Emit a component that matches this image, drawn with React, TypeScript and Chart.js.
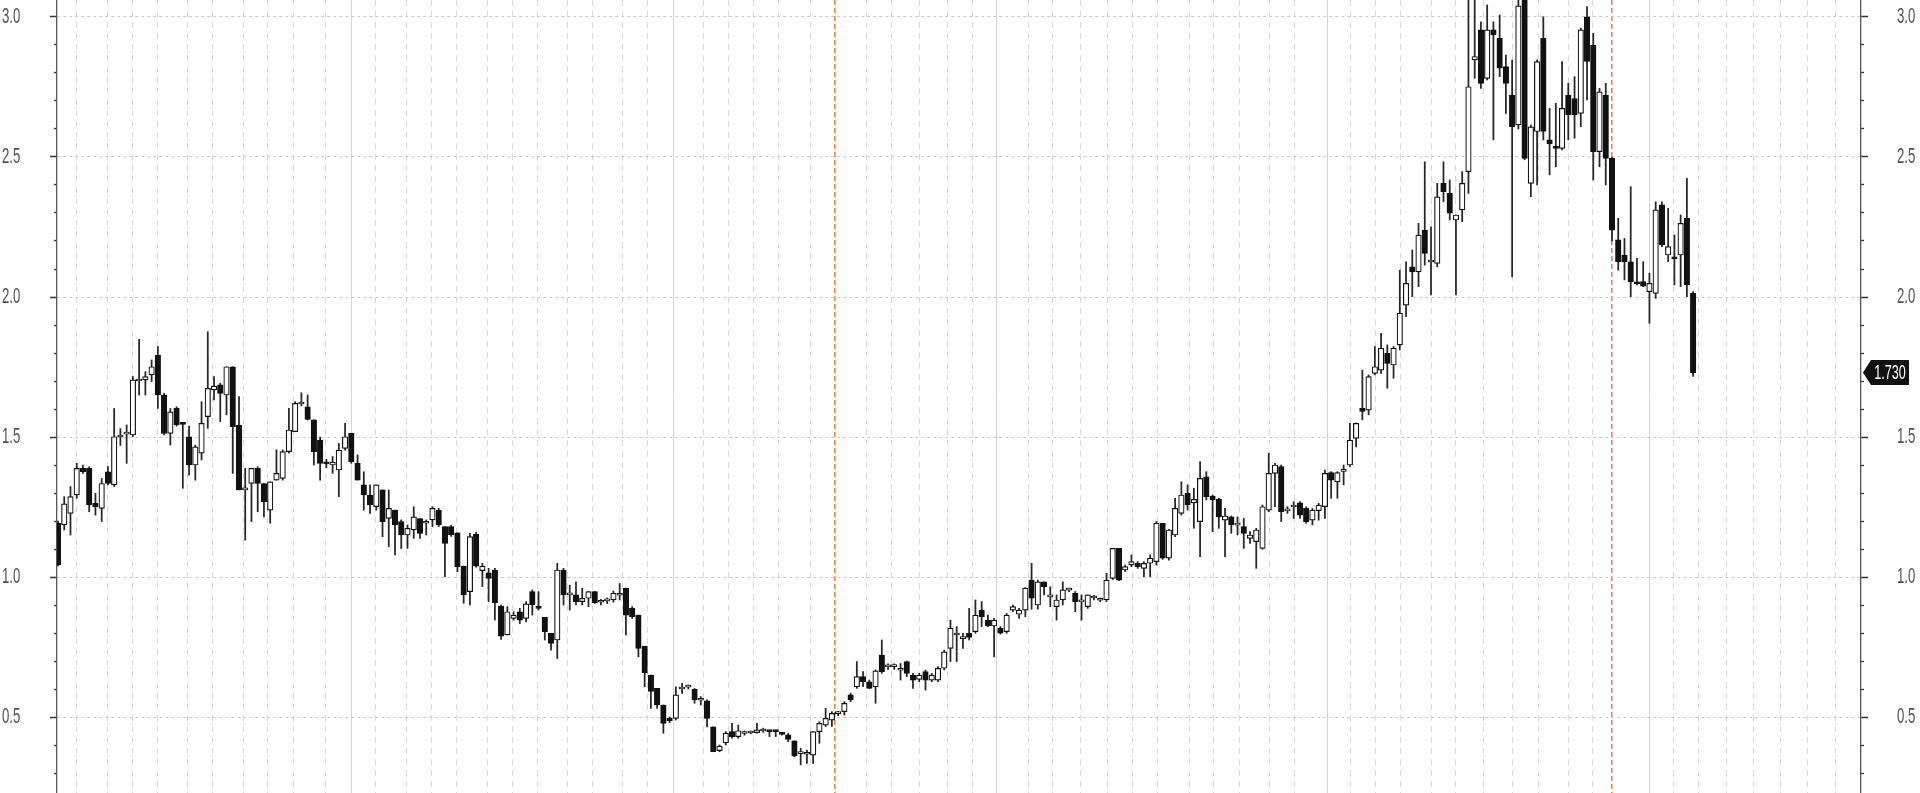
import React, { useEffect, useRef } from 'react';
import { Chart, registerables } from 'chart.js';
Chart.register(...registerables);

// ---- candle data (one entry per trading day, index = position on x) ----
const opens = [
  1.192,1.186,1.227,1.293,1.388,1.388,1.263,1.245,1.376,1.329,
  1.50,1.51,1.507,1.70,1.704,1.722,1.793,1.650,1.513,1.602,
  1.547,1.501,1.400,1.442,1.573,1.668,1.686,1.650,1.751,1.543,
  1.311,1.334,1.388,1.334,1.239,1.346,1.352,1.448,1.519,1.618,
  1.608,1.561,1.489,1.406,1.40,1.382,1.459,1.513,1.406,1.329,
  1.293,1.251,1.311,1.209,1.239,1.198,1.150,1.168,1.209,1.192,
  1.204,1.239,1.180,1.180,1.158,1.039,0.948,1.152,1.023,1.015,
  1.025,0.896,0.793,0.852,0.876,0.852,0.948,0.889,0.856,0.799,
  0.775,1.025,0.936,0.936,0.912,0.924,0.948,0.910,0.915,0.918,
  0.935,0.960,0.888,0.864,0.753,0.650,0.602,0.543,0.495,0.495,
  0.600,0.607,0.599,0.560,0.558,0.465,0.380,0.408,0.448,0.430,
  0.441,0.443,0.444,0.450,0.449,0.449,0.439,0.436,0.415,0.369,
  0.367,0.364,0.448,0.471,0.489,0.512,0.519,0.579,0.608,0.644,
  0.626,0.608,0.721,0.679,0.680,0.667,0.698,0.650,0.634,0.662,
  0.632,0.632,0.674,0.745,0.793,0.780,0.799,0.805,0.882,0.846,
  0.825,0.817,0.805,0.882,0.867,0.882,0.989,0.900,0.983,0.929,
  0.894,0.918,0.953,0.942,0.911,0.894,0.925,0.917,0.918,0.995,
  1.102,1.025,1.043,1.049,1.031,1.049,1.055,1.192,1.067,1.150,
  1.227,1.299,1.265,1.198,1.358,1.289,1.277,1.203,1.215,1.185,
  1.180,1.138,1.126,1.102,1.239,1.370,1.394,1.236,1.250,1.265,
  1.245,1.203,1.237,1.251,1.373,1.340,1.377,1.400,1.495,1.602,
  1.596,1.727,1.739,1.799,1.757,1.829,1.971,2.108,2.090,2.239,
  2.125,2.120,2.406,2.370,2.275,2.311,2.448,2.847,2.954,2.781,
  2.954,2.924,2.823,2.721,2.615,3.08,2.406,2.591,2.924,2.561,
  2.532,2.531,2.721,2.709,2.656,3.001,2.900,2.519,2.721,2.495,
  2.204,2.150,2.126,2.049,2.055,2.019,2.013,2.329,2.150,2.137,
  2.150,2.281,2.013,
];
const highs = [
  1.20,1.287,1.323,1.406,1.40,1.394,1.299,1.352,1.394,1.602,
  1.53,1.543,1.716,1.849,1.733,1.775,1.823,1.656,1.602,1.608,
  1.549,1.539,1.471,1.626,1.876,1.716,1.692,1.751,1.751,1.644,
  1.388,1.388,1.394,1.334,1.340,1.454,1.454,1.602,1.626,1.658,
  1.650,1.561,1.50,1.42,1.43,1.477,1.549,1.513,1.436,1.376,
  1.329,1.329,1.311,1.311,1.239,1.204,1.186,1.251,1.209,1.204,
  1.251,1.245,1.180,1.185,1.158,1.039,1.156,1.16,1.049,1.031,
  1.031,0.900,0.894,0.876,0.888,0.912,0.954,0.948,0.856,0.799,
  1.049,1.031,0.971,0.983,0.960,0.948,0.948,0.92,0.925,0.95,
  0.977,0.960,0.894,0.864,0.753,0.650,0.602,0.543,0.50,0.608,
  0.620,0.615,0.602,0.573,0.561,0.465,0.40,0.448,0.477,0.471,
  0.45,0.45,0.477,0.46,0.452,0.452,0.445,0.442,0.415,0.388,
  0.382,0.448,0.483,0.531,0.519,0.52,0.555,0.585,0.698,0.662,
  0.632,0.668,0.775,0.69,0.69,0.691,0.70,0.656,0.656,0.668,
  0.656,0.680,0.739,0.846,0.823,0.799,0.888,0.918,0.912,0.864,
  0.852,0.823,0.870,0.900,0.888,0.962,1.049,0.989,0.983,0.965,
  0.936,0.983,0.96,0.948,0.936,0.936,0.935,0.925,1.013,1.102,
  1.102,1.043,1.079,1.055,1.055,1.079,1.198,1.192,1.17,1.281,
  1.340,1.329,1.317,1.412,1.376,1.293,1.281,1.245,1.218,1.215,
  1.209,1.162,1.174,1.257,1.442,1.406,1.400,1.251,1.269,1.269,
  1.251,1.245,1.263,1.382,1.376,1.376,1.400,1.549,1.551,1.739,
  1.722,1.823,1.870,1.829,1.823,2.096,2.126,2.168,2.263,2.483,
  2.251,2.406,2.483,2.418,2.293,2.448,3.10,3.10,2.983,3.043,
  2.983,3.007,2.864,2.846,3.10,3.10,2.614,2.847,3.001,2.674,
  2.692,2.841,2.763,2.787,2.960,3.037,2.942,2.745,2.763,2.50,
  2.281,2.209,2.394,2.138,2.126,2.085,2.340,2.340,2.317,2.221,
  2.293,2.424,2.019,
];
const lows = [
  1.04,1.168,1.150,1.281,1.37,1.233,1.221,1.198,1.329,1.323,
  1.47,1.406,1.501,1.650,1.650,1.698,1.602,1.507,1.471,1.539,
  1.317,1.364,1.346,1.418,1.531,1.632,1.555,1.579,1.370,1.311,
  1.132,1.198,1.233,1.215,1.192,1.346,1.346,1.442,1.519,1.611,
  1.561,1.400,1.346,1.39,1.37,1.287,1.453,1.406,1.346,1.239,
  1.227,1.239,1.144,1.108,1.079,1.102,1.102,1.138,1.138,1.150,
  1.180,1.180,1.001,1.145,1.019,0.906,0.900,1.035,0.966,0.912,
  0.846,0.777,0.793,0.846,0.834,0.840,0.864,0.882,0.775,0.739,
  0.709,0.900,0.882,0.900,0.900,0.894,0.906,0.90,0.905,0.91,
  0.918,0.793,0.852,0.715,0.608,0.531,0.531,0.442,0.48,0.489,
  0.584,0.60,0.549,0.543,0.465,0.376,0.376,0.40,0.424,0.424,
  0.435,0.44,0.442,0.445,0.43,0.43,0.435,0.412,0.358,0.329,
  0.334,0.334,0.406,0.466,0.466,0.505,0.507,0.555,0.602,0.608,
  0.602,0.549,0.656,0.67,0.67,0.632,0.644,0.602,0.626,0.596,
  0.626,0.626,0.668,0.698,0.698,0.745,0.775,0.799,0.823,0.823,
  0.715,0.796,0.799,0.876,0.852,0.858,0.885,0.885,0.936,0.894,
  0.846,0.900,0.948,0.876,0.846,0.888,0.918,0.912,0.912,0.991,
  0.987,1.019,1.037,1.031,1.001,1.001,1.043,1.063,1.06,1.144,
  1.221,1.239,1.174,1.073,1.275,1.162,1.174,1.073,1.156,1.150,
  1.102,1.120,1.031,1.099,1.233,1.251,1.198,1.227,1.209,1.209,
  1.192,1.186,1.203,1.209,1.281,1.281,1.329,1.394,1.465,1.561,
  1.579,1.722,1.727,1.674,1.710,1.811,1.930,2.001,2.037,2.114,
  2.007,2.108,2.340,2.275,2.007,2.269,2.370,2.781,2.745,2.775,
  2.561,2.787,2.656,2.072,2.60,2.49,2.358,2.400,2.561,2.436,
  2.465,2.525,2.561,2.567,2.608,2.704,2.418,2.465,2.400,2.20,
  2.096,2.061,2.001,2.043,2.037,1.906,1.995,2.180,2.126,2.043,
  2.037,2.001,1.716,
];
const closes = [
  1.043,1.261,1.287,1.388,1.376,1.257,1.251,1.334,1.334,1.501,
  1.505,1.515,1.704,1.703,1.716,1.751,1.650,1.513,1.590,1.543,
  1.545,1.400,1.465,1.549,1.674,1.682,1.656,1.751,1.537,1.311,
  1.314,1.388,1.334,1.269,1.340,1.370,1.448,1.525,1.620,1.620,
  1.563,1.448,1.406,1.404,1.41,1.453,1.501,1.412,1.346,1.293,
  1.257,1.329,1.198,1.245,1.186,1.150,1.174,1.215,1.156,1.197,
  1.245,1.186,1.120,1.150,1.037,0.936,1.144,1.039,1.039,0.995,
  0.908,0.789,0.876,0.864,0.846,0.904,0.900,0.888,0.805,0.763,
  1.025,0.936,0.938,0.912,0.924,0.948,0.908,0.912,0.918,0.942,
  0.937,0.864,0.858,0.745,0.658,0.591,0.543,0.477,0.486,0.579,
  0.602,0.608,0.561,0.561,0.495,0.376,0.396,0.442,0.430,0.451,
  0.442,0.444,0.454,0.451,0.448,0.448,0.438,0.420,0.361,0.370,
  0.368,0.448,0.477,0.495,0.513,0.513,0.549,0.561,0.644,0.626,
  0.602,0.665,0.662,0.680,0.682,0.668,0.656,0.632,0.650,0.632,
  0.650,0.674,0.733,0.817,0.795,0.782,0.784,0.864,0.858,0.825,
  0.846,0.799,0.864,0.894,0.882,0.960,0.924,0.983,0.965,0.930,
  0.918,0.954,0.954,0.912,0.912,0.936,0.926,0.918,0.989,1.102,
  0.989,1.037,1.055,1.037,1.049,1.067,1.192,1.067,1.168,1.245,
  1.293,1.257,1.277,1.352,1.287,1.275,1.215,1.218,1.186,1.186,
  1.156,1.150,1.168,1.251,1.370,1.400,1.233,1.237,1.251,1.221,
  1.198,1.239,1.257,1.370,1.346,1.373,1.378,1.489,1.549,1.591,
  1.716,1.751,1.817,1.763,1.817,1.942,2.049,2.090,2.221,2.156,
  2.126,2.358,2.376,2.299,2.293,2.406,2.751,2.859,2.763,2.954,
  2.936,2.817,2.763,2.608,3.04,2.495,2.608,2.841,2.591,2.547,
  2.531,2.674,2.650,2.650,2.954,2.841,2.519,2.733,2.495,2.239,
  2.126,2.126,2.055,2.047,2.039,2.049,2.311,2.186,2.180,2.136,
  2.263,2.043,1.730,
];

// ---- axis tick values ----
const yMajorTicks = [0.5, 1.0, 1.5, 2.0, 2.5, 3.0];
const yMinorTicks = [0.3,0.4,0.6,0.7,0.8,0.9,1.1,1.2,1.3,1.4,1.6,1.7,1.8,1.9,2.1,2.2,2.3,2.4,2.6,2.7,2.8,2.9];
// week / month separators and event markers, in trading-day index units
const weekLines = [
  2.9,7.9,12.0,15.9,20.8,24.8,29.7,33.5,37.8,42.8,50.8,55.8,59.8,63.8,68.8,72.8,76.8,81.6,85.7,90.5,94.4,
  103.4,107.5,111.5,115.5,120.5,129.5,133.5,138.1,142.5,146.5,155.5,159.3,163.8,168.1,172.1,176.1,181.3,
  185.1,189.3,194.2,198.2,207.1,211.1,215.1,220.0,224.0,228.4,233.0,237.2,242.0,245.8,258.8,262.8,267.3,
  271.6,276.0,280.3,284.8,
];
const monthLines = [47.1, 98.6, 150.3, 203.4, 255.0];
const eventLines = [124.4, 248.9];

const X_MIN = -0.16;
const X_MAX = 288.9;
const Y_MIN = 0.2286;
const Y_MAX = 3.0607;
const FONT = "'Liberation Sans', Arial, sans-serif";
const SQUEEZE = 0.6; // the reference uses a tall, condensed face

const zeroPad = (s: any) => {
  s.paddingTop = 0;
  s.paddingBottom = 0;
  s.paddingLeft = 0;
  s.paddingRight = 0;
};

// draw the scale's own labels horizontally condensed around an anchor x
const condenseLabels = (s: any, anchor: (s: any) => number, shift: number) => {
  if (s.__condensed) return;
  s.__condensed = true;
  s._computeLabelArea = () => undefined; // no clip (clip would be squeezed too)
  const orig = s.drawLabels;
  s.drawLabels = function (area: any) {
    const ctx = this.ctx;
    const ax = anchor(this);
    ctx.save();
    ctx.translate(ax + shift, 0);
    ctx.scale(SQUEEZE, 1);
    ctx.translate(-ax, 0);
    orig.call(this, area);
    ctx.restore();
  };
};

const vLineAxis = (lines: number[], color: string, dash: number[], width: number, z: number) => ({
  type: 'linear',
  position: 'bottom',
  min: X_MIN,
  max: X_MAX,
  offset: false,
  z,
  afterBuildTicks: (s: any) => { s.ticks = lines.map((v) => ({ value: v })); },
  afterFit: (s: any) => { s.height = 0; zeroPad(s); },
  ticks: { display: false },
  grid: { color, lineWidth: width, drawTicks: false, drawOnChartArea: true, offset: false },
  border: { display: false, dash },
});

const priceTag = {
  id: 'priceTag',
  afterDraw(chart: any) {
    const s = chart.scales.yR;
    const v = closes[closes.length - 1];
    const y = s.getPixelForValue(v);
    const x0 = s.left + 2;
    const ctx = chart.ctx;
    ctx.save();
    ctx.fillStyle = '#111';
    ctx.beginPath();
    ctx.moveTo(x0, y);
    ctx.lineTo(x0 + 8, y - 12.5);
    ctx.lineTo(x0 + 46, y - 12.5);
    ctx.lineTo(x0 + 46, y + 12.5);
    ctx.lineTo(x0 + 8, y + 12.5);
    ctx.closePath();
    ctx.fill();
    ctx.fillStyle = '#fff';
    ctx.font = `21px ${FONT}`;
    ctx.textAlign = 'center';
    ctx.textBaseline = 'middle';
    const cx = x0 + 27;
    ctx.translate(cx, y + 1);
    ctx.scale(SQUEEZE, 1);
    ctx.fillText(v.toFixed(3), 0, 0);
    ctx.restore();
  },
};

export default function App() {
  const ref = useRef<HTMLCanvasElement | null>(null);
  useEffect(() => {
    document.body.style.margin = '0';
    document.body.style.overflow = 'hidden';
    const bodies = opens.map((o, i) => ({ x: i, y: [Math.min(o, closes[i]), Math.max(o, closes[i])] }));
    const wicks = lows.map((l, i) => ({ x: i, y: [l, highs[i]] }));
    const up = opens.map((o, i) => closes[i] >= o);
    const yBase = { type: 'linear', min: Y_MIN, max: Y_MAX };
    const chart = new Chart(ref.current as HTMLCanvasElement, {
      type: 'bar',
      data: {
        datasets: [
          {
            label: 'body',
            data: bodies as any,
            order: 0,
            grouped: false,
            barThickness: 5.5,
            minBarLength: 2,
            backgroundColor: (c: any) => (up[c.dataIndex] ? '#ffffff' : '#111111'),
            borderColor: '#111111',
            borderWidth: 1.2,
            borderSkipped: false,
            xAxisID: 'x',
            yAxisID: 'y',
          } as any,
          {
            label: 'wick',
            data: wicks as any,
            order: 1,
            grouped: false,
            barThickness: 1.1,
            backgroundColor: '#262626',
            borderWidth: 0,
            xAxisID: 'x',
            yAxisID: 'y',
          } as any,
        ],
      },
      options: {
        animation: false,
        responsive: false,
        events: [],
        layout: { padding: 0, autoPadding: false },
        plugins: { legend: { display: false }, tooltip: { enabled: false } },
        scales: {
          x: vLineAxis(weekLines, '#d9d9d9', [6, 5], 1, 0) as any,
          xm: vLineAxis(monthLines, '#d4d4d4', [], 1, 0) as any,
          xe: vLineAxis(eventLines, 'rgba(226,128,60,0.95)', [5, 3], 1.6, 1) as any,
          y: {
            ...yBase,
            position: 'left',
            weight: 1,
            afterBuildTicks: (s: any) => { s.ticks = yMajorTicks.map((v) => ({ value: v })); },
            afterFit: (s: any) => { s.width = 57; zeroPad(s); condenseLabels(s, (t) => t.left, 2); },
            ticks: { color: '#505050', font: { family: FONT, size: 22 }, padding: 4, crossAlign: 'far', callback: (v: any) => Number(v).toFixed(1) },
            grid: { color: '#cbcbcb', lineWidth: 1, tickLength: 7, tickColor: '#333', tickWidth: 1.5, drawOnChartArea: true },
            border: { display: true, color: '#555', width: 1.3, dash: [3, 3] },
          } as any,
          yMinor: {
            ...yBase,
            position: 'left',
            weight: 0,
            afterBuildTicks: (s: any) => { s.ticks = yMinorTicks.map((v) => ({ value: v })); },
            afterFit: (s: any) => { s.width = 0; zeroPad(s); },
            ticks: { display: false },
            grid: { drawOnChartArea: false, tickLength: 3, tickColor: '#333', tickWidth: 1.3 },
            border: { display: false },
          } as any,
          yR: {
            ...yBase,
            position: 'right',
            weight: 1,
            afterBuildTicks: (s: any) => { s.ticks = yMajorTicks.map((v) => ({ value: v })); },
            afterFit: (s: any) => { s.width = 59; zeroPad(s); condenseLabels(s, (t) => t.left + 7 + 29, 0); },
            ticks: { color: '#505050', font: { family: FONT, size: 22 }, padding: 29, callback: (v: any) => Number(v).toFixed(1) },
            grid: { drawOnChartArea: false, tickLength: 7, tickColor: '#333', tickWidth: 1.5 },
            border: { display: true, color: '#555', width: 1.3 },
          } as any,
          yRMinor: {
            ...yBase,
            position: 'right',
            weight: 0,
            afterBuildTicks: (s: any) => { s.ticks = yMinorTicks.map((v) => ({ value: v })); },
            afterFit: (s: any) => { s.width = 0; zeroPad(s); },
            ticks: { display: false },
            grid: { drawOnChartArea: false, tickLength: 3, tickColor: '#333', tickWidth: 1.3 },
            border: { display: false },
          } as any,
        },
      } as any,
      plugins: [priceTag],
    });
    return () => chart.destroy();
  }, []);
  return (
    <div style={{ width: 1920, height: 793, background: '#fff' }}>
      <canvas ref={ref} width={1920} height={793} style={{ display: 'block' }} />
    </div>
  );
}
